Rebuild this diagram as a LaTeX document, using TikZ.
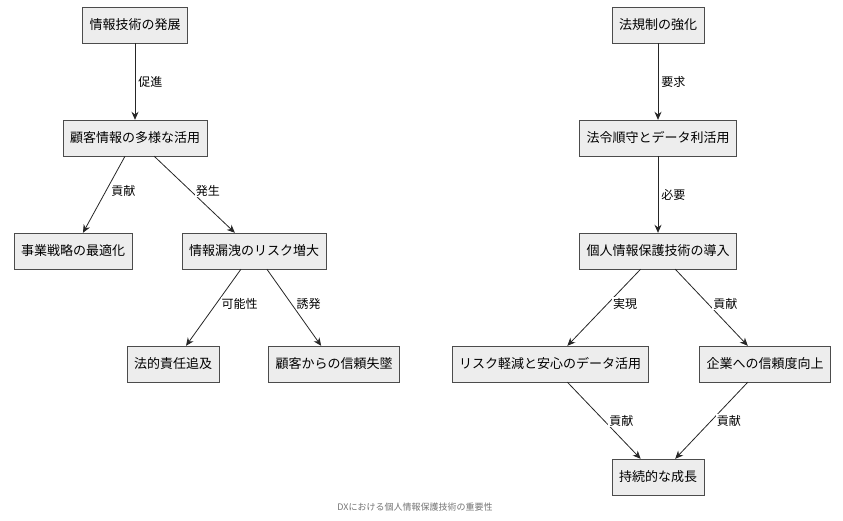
\documentclass[tikz,border=0pt]{standalone}
\usepackage{fontspec}
\setmainfont{Noto Sans CJK JP}
\usetikzlibrary{arrows.meta}
\tikzset{%
  box/.style={draw=black!70,fill=black!7,inner xsep=7pt,minimum height=36pt,font=\fontsize{13}{15}\selectfont},
  link/.style={draw=black!85,-{Stealth[length=8pt,width=7pt]},thick},
  lbl/.style={font=\fontsize{12}{14}\selectfont,fill=white,inner sep=1pt}
}
\begin{document}
\begin{tikzpicture}[x=1pt,y=-1pt]
  \useasboundingbox (0,0) rectangle (843,520);
  % left tree
  \node[box] (it) at (135,25) {情報技術の発展};
  \node[box] (cust) at (135,138) {顧客情報の多様な活用};
  \node[box] (strat) at (73,251) {事業戦略の最適化};
  \node[box] (leak) at (254,251) {情報漏洩のリスク増大};
  \node[box] (legal) at (173,364) {法的責任追及};
  \node[box] (trust) at (334,364) {顧客からの信頼失墜};
  % right tree
  \node[box] (law) at (658,25) {法規制の強化};
  \node[box] (comp) at (658,138) {法令順守とデータ利活用};
  \node[box] (tech) at (658,251) {個人情報保護技術の導入};
  \node[box] (risk) at (550,364) {リスク軽減と安心のデータ活用};
  \node[box] (corp) at (765,364) {企業への信頼度向上};
  \node[box] (grow) at (658,477) {持続的な成長};
  %%
  \draw[link] (it) -- node[lbl,right=2pt]{促進} (cust);
  \draw[link] (cust) -- node[lbl,pos=.45,right=4pt]{貢献} (strat);
  \draw[link] (cust) -- node[lbl,pos=.45,right=4pt]{発生} (leak);
  \draw[link] (leak) -- node[lbl,pos=.45,right=4pt]{可能性} (legal);
  \draw[link] (leak) -- node[lbl,pos=.45,right=4pt]{誘発} (trust);
  \draw[link] (law) -- node[lbl,right=2pt]{要求} (comp);
  \draw[link] (comp) -- node[lbl,right=2pt]{必要} (tech);
  \draw[link] (tech) -- node[lbl,pos=.45,right=4pt]{実現} (risk);
  \draw[link] (tech) -- node[lbl,pos=.45,right=4pt]{貢献} (corp);
  \draw[link] (risk) -- node[lbl,pos=.5,right=4pt]{貢献} (grow);
  \draw[link] (corp) -- node[lbl,pos=.5,right=4pt]{貢献} (grow);
  %%
  \node[font=\fontsize{9}{11}\selectfont,text=black!55] (cap) at (415,507) {DXにおける個人情報保護技術の重要性};
\end{tikzpicture}
\end{document}
